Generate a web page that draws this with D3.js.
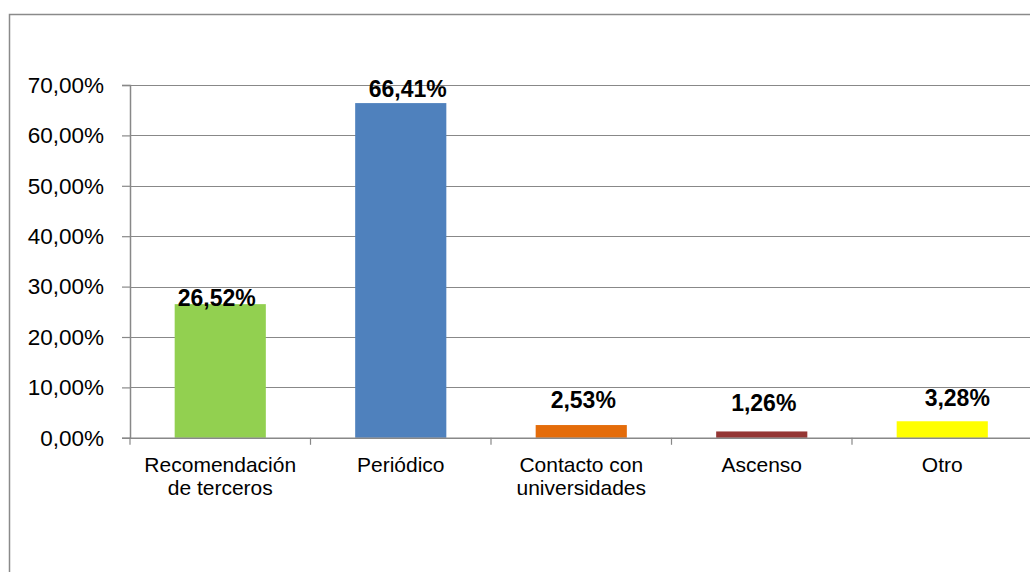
<!DOCTYPE html>
<html>
<head>
<meta charset="utf-8">
<script src="https://cdn.jsdelivr.net/npm/d3@7"></script>
<style>
  html, body { margin: 0; padding: 0; background: #fff; }
  svg { display: block; }
</style>
</head>
<body>
<svg id="chart" width="1030" height="572"></svg>
<script>
const categories = [["Recomendación", "de terceros"], ["Periódico"], ["Contacto con", "universidades"], ["Ascenso"], ["Otro"]];
const values = [26.52, 66.41, 2.53, 1.26, 3.28];
const barColors = ["#92D050", "#4F81BD", "#E46C0A", "#943634", "#FFFF00"];
const yTicks = [0, 10, 20, 30, 40, 50, 60, 70];

// label nudges (layout only)
const labelDx = [-3.5, 7, 2, 2, 15];
const labelDy = [2, -6.5, -17, -20, -15];

(function () {
const svg = d3.select("#chart");
const pLeft = 130, pTop = 85, pBottom = 437.8, pRight = 130 + 5 * 180.5;

// outer chart border (extends beyond view)
svg.append("rect")
  .attr("x", 9.5).attr("y", 14.5)
  .attr("width", 1040).attr("height", 600)
  .attr("fill", "#fff").attr("stroke", "#8a8a8a").attr("stroke-width", 1.5);

const x = d3.scaleBand().domain(d3.range(categories.length)).range([pLeft, pRight]).padding(0);
const y = d3.scaleLinear().domain([0, 70]).range([pBottom, pTop]);

const fmt = v => v.toFixed(2).replace(".", ",") + "%";

// gridlines
svg.append("g").selectAll("line").data(yTicks.filter(t => t > 0)).join("line")
  .attr("x1", pLeft).attr("x2", pRight)
  .attr("y1", d => Math.round(y(d)) + 0.5).attr("y2", d => Math.round(y(d)) + 0.5)
  .attr("stroke", "#888").attr("stroke-width", 1.2);

// y axis
const yAxis = svg.append("g").attr("transform", `translate(${pLeft},0)`)
  .call(d3.axisLeft(y).tickValues(yTicks).tickSize(8).tickPadding(18).tickFormat(d => d.toFixed(2).replace(".", ",") + "%"));
yAxis.select(".domain").attr("stroke", "#888").attr("stroke-width", 1.5);
yAxis.selectAll(".tick line").attr("stroke", "#888").attr("stroke-width", 1.2);
yAxis.selectAll(".tick text")
  .attr("font-family", "'Liberation Sans', Arial, sans-serif")
  .attr("font-size", "22.5px").attr("fill", "#000");

// bars
const bw = x.bandwidth() * 0.505;
svg.append("g").selectAll("rect").data(values).join("rect")
  .attr("x", (d, i) => x(i) + (x.bandwidth() - bw) / 2)
  .attr("y", d => y(d))
  .attr("width", bw)
  .attr("height", d => y(0) - y(d))
  .attr("fill", (d, i) => barColors[i]);

// x axis
const xAxis = svg.append("g").attr("transform", `translate(0,${pBottom})`)
  .call(d3.axisBottom(x).tickSize(0).tickFormat(""));
xAxis.select(".domain").attr("stroke", "#888").attr("stroke-width", 1.5);
xAxis.selectAll(".tick").remove();
const bounds = d3.range(categories.length + 1).map(i => pLeft + i * x.step());
svg.append("g").selectAll("line").data(bounds).join("line")
  .attr("x1", d => d).attr("x2", d => d)
  .attr("y1", pBottom).attr("y2", pBottom + 7)
  .attr("stroke", "#888").attr("stroke-width", 1.2);

// category labels
const catG = svg.append("g");
categories.forEach((lines, i) => {
  const t = catG.append("text")
    .attr("x", x(i) + x.bandwidth() / 2)
    .attr("y", 472)
    .attr("text-anchor", "middle")
    .attr("font-family", "'Liberation Sans', Arial, sans-serif")
    .attr("font-size", "21px").attr("fill", "#000");
  lines.forEach((ln, j) => {
    t.append("tspan").attr("x", x(i) + x.bandwidth() / 2).attr("dy", j === 0 ? 0 : 22.5).text(ln);
  });
});

// value labels
svg.append("g").selectAll("text").data(values).join("text")
  .attr("x", (d, i) => x(i) + x.bandwidth() / 2 + labelDx[i])
  .attr("y", (d, i) => y(d) + labelDy[i])
  .attr("text-anchor", "middle")
  .attr("font-family", "'Liberation Sans', Arial, sans-serif")
  .attr("font-weight", "bold")
  .attr("font-size", "23px").attr("fill", "#000")
  .text(d => fmt(d));
})();
</script>
</body>
</html>
